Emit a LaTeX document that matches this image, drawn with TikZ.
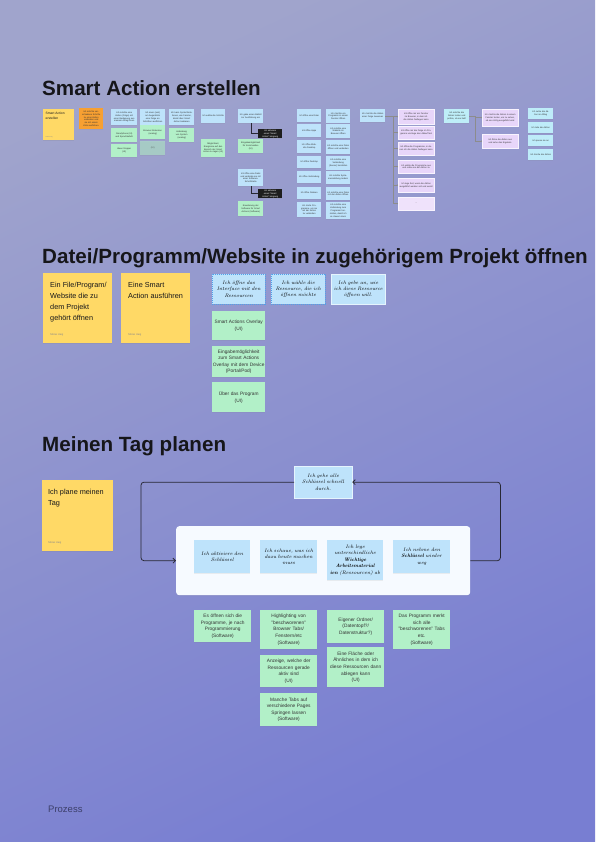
\documentclass[tikz,border=0pt]{standalone}
\usepackage{fontspec}
\setsansfont{Liberation Sans}
\usetikzlibrary{arrows.meta,calc,shadows}

\definecolor{bgtop}{RGB}{160,164,204}
\definecolor{bgbot}{RGB}{120,126,210}
\definecolor{stickyY}{RGB}{255,217,102}
\definecolor{stickyO}{RGB}{247,160,50}
\definecolor{cardB}{RGB}{190,227,251}
\definecolor{cardC}{RGB}{190,238,248}
\definecolor{cardG}{RGB}{178,240,200}
\definecolor{cardP}{RGB}{232,214,250}
\definecolor{cardK}{RGB}{30,30,30}
\definecolor{wrapW}{RGB}{246,250,255}
\definecolor{titleK}{RGB}{22,22,26}
\definecolor{lineK}{RGB}{40,40,52}
\definecolor{dashB}{RGB}{80,160,235}

\tikzset{
  title/.style={anchor=base west, inner sep=0pt, text=titleK, font=\sffamily\bfseries\fontsize{20.6}{24}\selectfont},
  sz/.style 2 args={minimum width=#1pt, minimum height=#2pt},
  sticky/.style={fill=stickyY, anchor=north west, inner sep=0pt,
    drop shadow={shadow xshift=0pt, shadow yshift=-0.8pt, opacity=0.18}},
  stickytext/.style={anchor=north west, inner sep=0pt, align=left, text=titleK,
    font=\sffamily\fontsize{7.3}{10.8}\selectfont},
  author/.style={anchor=south west, inner sep=0pt, text=black!45, font=\sffamily\fontsize{2.6}{3}\selectfont},
  box/.style={anchor=north west, align=center, inner sep=0.5pt, text=black!80,
    font=\sffamily\fontsize{2.2}{2.8}\selectfont,
    drop shadow={shadow xshift=0pt, shadow yshift=-0.5pt, opacity=0.12}},
  card/.style={box, fill=cardB, text width=22pt},
  idea/.style={box, fill=cardG, text width=22pt},
  pcard/.style={box, fill=cardP, draw=white!70!cardP, line width=0.3pt, text width=34pt},
  dark/.style={box, fill=cardK, text=white, text width=22pt},
  note/.style={box, fill=cardG, font=\sffamily\fontsize{4.8}{6.6}\selectfont},
  hand/.style={box, fill=cardB, text=black, font=\rmfamily\itshape\fontsize{5}{6.4}\selectfont},
  link/.style={draw=lineK, line width=0.4pt},
  bus/.style={draw=black!45, line width=0.3pt, -{Circle[length=1.2pt]}},
  flow/.style={draw=lineK, line width=0.75pt, rounded corners=3pt, -{Straight Barb[length=2.5pt,width=5pt]}},
}

\begin{document}
\begin{tikzpicture}[x=1pt, y=-1pt]
  % page background
  \shade[top color=bgtop, bottom color=bgbot, shading angle=25] (0,0) rectangle (595,842);
  \useasboundingbox (0,0) rectangle (595,842);

  % ---------------- Smart Action erstellen ----------------
  \node[title] (t1) at (42,96) {Smart Action erstellen};

  \node[sticky, sz={31}{31}] (sa) at (43,109) {};
  \node[stickytext, font=\sffamily\fontsize{3.3}{4.6}\selectfont] (sat) at ($(sa.north west)+(2.5,3)$) {Smart Action\\erstellen};
  \node[author, font=\sffamily\fontsize{1.4}{2}\selectfont] (saa) at ($(sa.south west)+(2.5,-2)$) {Niklas Haig};
  \node[box, fill=stickyO, sz={24}{21}, text width=21pt] (so) at (79,108) {Ich möchte verschiedene Schritte zu einer Aktion verbinden und sie mit einem Klick ausführen.};

  \node[card, sz={26}{16}] (a1) at (111,109) {Ich möchte eine Aktion (Folge) mit einer Bedienung aus meinem Alltag lösen};
  \node[idea, sz={26}{14}] (a2) at (111,128) {Smartphone (UI)\\und Sprachbefehl};
  \node[idea, sz={26}{13}] (a3) at (111,144) {Ideen Stopper\\(UI)};

  \node[card, sz={25}{16}] (b1) at (140,109) {Ich muss (viel) am Augenblick eine Folge an Schritten ausführen};
  \node[idea, sz={25}{14}] (b2) at (140,125) {Browser Extension\\(analog)};
  \node[idea, sz={25}{14}, fill opacity=0.55, text opacity=0.7] (b3) at (140,141) {(UI)};

  \node[card, sz={25}{16}] (c1) at (169,109) {Ich kann Systemfunktionen, wie Fenster, direkt über Smart Action bedienen};
  \node[idea, sz={25}{14}] (c2) at (169,128) {Anbindung von System\\(analog)};

  \node[card, sz={24}{14}] (d1) at (201,109) {Ich wähle die Schritte};
  \node[idea, sz={24}{18}] (d2) at (201,139) {Möglichkeit, Ereignisse auf den Bereich der Smart Action zu legen (UI)};

  \node[card, sz={25}{14}] (e1) at (238,109) {Ich gebe einen Befehl zur Ausführung ein};
  \node[dark, sz={24}{9}] (k1) at (258,129) {Ich aktiviere einen "Smart Action"-Vorgang};
  \node[idea, sz={25}{14}] (e2) at (238,139) {Eingabemöglichkeit für Kommandos\\(UI)};
  \node[card, sz={25}{17}] (e3) at (238,169) {Ich öffne eine Datei und verbinde sie mit einer Software-Schnittstelle};
  \node[dark, sz={24}{9}] (k2) at (258,189) {Ich aktiviere einen "Smart Action"-Vorgang};
  \node[idea, sz={25}{15}] (e4) at (238,201) {Erweiterung der Software für Smart Actions (Software)};
  \draw[link] (e1.south) |- (k1.west);
  \draw[link] (e3.south) |- (k2.west);

  \foreach \y/\h/\t [count=\i] in {109/13/{Ich öffne eine Datei}, 124/13/{Ich öffne Apps},
      140/13/{Ich öffne Website Desktop}, 156/12/{Ich öffne Desktop}, 171/12/{Ich öffne Verbindung},
      187/12/{Ich öffne Dateien}, 202/15/{Ich starte Programme, um sie mit der Aktion zu verbinden}}
    \node[card, sz={24}{\h}] (f\i) at (297,\y) {\t};

  \foreach \y/\h/\t [count=\i] in {109/14/{Ich möchte ein Programm in einem Fenster öffnen},
      124/14/{Ich möchte eine Website im Browser öffnen}, 140/14/{Ich möchte eine Datei öffnen und verbinden},
      156/14/{Ich möchte eine Verbindung (Server) herstellen}, 171/13/{Ich möchte Systemeinstellung ändern},
      187/13/{Ich möchte eine Datei mit der Aktion öffnen},
      202/17/{Ich möchte eine Verbindung zum Programm herstellen, damit ich es steuern kann}}
    \node[card, sz={24}{\h}] (g\i) at (326,\y) {\t};

  \node[card, sz={25}{13}] (h1) at (360,109) {Ich möchte die Aktion einer Folge zuweisen};
  \foreach \y/\h/\t [count=\i] in {109/15/{Ich öffne mir ein Fenster im Browser, in dem ich die Aktion festlegen kann},
      126/13/{Ich öffne mir die Folge im Programm und lege den Ablauf fest},
      142/13/{Ich öffne die Programme, in denen ich die Aktion festlegen kann},
      160/13/{Ich wähle die Programme aus und ordne sie der Aktion zu},
      178/14/{Ich lege fest, wann die Aktion ausgeführt werden soll und womit},
      197/13/{...}}
    \node[pcard, sz={36}{\h}] (p\i) at (398,\y) {\t};
  \node[pcard, sz={36}{13}, fill=cardP!70!white] (p6) at (398,197) {...};
  \foreach \i in {1,...,6}
    \draw[bus] (h1.east) -- ++(8,0) |- (p\i.west);

  \node[box, fill=cardC, sz={25}{14}, text width=22pt] (h2) at (444,109) {Ich möchte die Aktion testen und prüfen, ob sie läuft};
  \node[pcard, sz={36}{17}] (q1) at (482,109) {Ich möchte die Aktion in einem Fenster testen, um zu sehen, ob sie richtig ausgeführt wird};
  \node[pcard, sz={36}{14}] (q2) at (482,134) {Ich führe die Aktion aus und sehe das Ergebnis};
  \foreach \i in {1,2}
    \draw[bus] (h2.east) -- ++(6,0) |- (q\i.west);

  \foreach \y/\t [count=\i] in {108/{Ich nutze die Aktion im Alltag}, 122/{Ich teile die Aktion},
      135/{Ich passe sie an}, 149/{Ich lösche die Aktion}}
    \node[box, fill=cardC!80!cardB, sz={25}{11}, text width=22pt] (r\i) at (528,\y) {\t};

  % ---------------- Datei/Programm/Website ----------------
  \node[title] (t2) at (42,263) {Datei/Programm/Website in zugehörigem Projekt öffnen};

  \node[sticky, sz={69}{70}] (s1) at (43,273) {};
  \node[stickytext] (s1t) at ($(s1.north west)+(7,9.5)$) {Ein File/Program/\\Website die zu\\dem Projekt\\gehört öffnen};
  \node[author] (s1a) at ($(s1.south west)+(7,-7)$) {Niklas Haig};
  \node[sticky, sz={69}{70}] (s2) at (121,273) {};
  \node[stickytext] (s2t) at ($(s2.north west)+(7,9.5)$) {Eine Smart\\Action ausführen};
  \node[author] (s2a) at ($(s2.south west)+(7,-7)$) {Niklas Haig};

  \node[hand, sz={53}{30}, text width=52pt, draw=dashB, dashed, dash pattern=on 1.2pt off 0.8pt, line width=0.4pt] (o1) at (212,274) {Ich öffne das\\Interface mit den\\Ressourcen};
  \node[hand, sz={54}{30}, text width=53pt, draw=dashB, dashed, dash pattern=on 1.2pt off 0.8pt, line width=0.4pt] (o2) at (271,274) {Ich wähle die\\Ressource, die ich\\öffnen möchte};
  \node[hand, sz={54}{30}, text width=53pt, draw=white!60!cardB, line width=0.4pt] (o3) at (331,274) {Ich gebe an, wie\\ich diese Ressource\\öffnen will.};

  \node[note, sz={53}{29}, text width=52pt] (n1) at (212,311) {Smart Actions Overlay\\(UI)};
  \node[note, sz={53}{31}, text width=52pt] (n2) at (212,346) {Eingabemöglichkeit\\zum Smart Actions\\Overlay mit dem Device\\(Portal/Pod)};
  \node[note, sz={53}{30}, text width=52pt] (n3) at (212,382) {Über das Program\\(UI)};

  % ---------------- Meinen Tag planen ----------------
  \node[title] (t3) at (42,451) {Meinen Tag planen};

  \node[sticky, sz={71}{71}] (s3) at (42,480) {};
  \node[stickytext] (s3t) at ($(s3.north west)+(6,9)$) {Ich plane meinen\\Tag};
  \node[author] (s3a) at ($(s3.south west)+(6,-7)$) {Niklas Haig};

  \node[hand, sz={58}{32}, text width=57pt, draw=white!60!cardB, line width=0.3pt] (durch) at (294,466) {Ich gehe alle\\Schlüssel schnell\\durch.};

  \node[anchor=north west, fill=wrapW, rounded corners=3pt, sz={294}{69},
    drop shadow={shadow xshift=0pt, shadow yshift=-0.8pt, opacity=0.12}] (tag) at (176,526) {};
  \node[hand, sz={56}{33}, text width=55pt] (u1) at (194,540) {Ich aktiviere den\\Schlüssel};
  \node[hand, sz={57}{33}, text width=56pt] (u2) at (260,540) {Ich schaue, was ich\\dazu heute machen\\muss};
  \node[hand, sz={56}{40}, text width=55pt] (u3) at (327,540) {Ich lege\\unterschiedliche\\\textbf{Wichtige}\\\textbf{Arbeitsmaterial}\\\textbf{ien} (Ressourcen) ab};
  \node[hand, sz={57}{33}, text width=56pt] (u4) at (393,540) {Ich nehme den\\\textbf{Schlüssel} wieder\\weg};

  \draw[flow] (durch.west) -| ($(tag.west)+(-35,0)$) -- (tag.west);
  \draw[flow] (tag.east) -- ++(30,0) |- (durch.east);

  \node[note, sz={57}{32}, text width=56pt] (v1) at (194,610) {Es öffnen sich die\\Programme, je nach\\Programmierung\\(Software)};
  \node[note, sz={57}{39}, text width=56pt] (v2) at (260,610) {Highlighting von\\"beschworenen"\\Browser Tabs/\\Fenstern/etc\\(Software)};
  \node[note, sz={57}{32}, text width=56pt] (v3) at (260,655) {Anzeige, welche der\\Ressourcen gerade\\aktiv sind\\(UI)};
  \node[note, sz={57}{33}, text width=56pt] (v4) at (260,693) {Manche Tabs auf\\verschiedene Pages\\Springen lassen\\(Software)};
  \node[note, sz={57}{33}, text width=56pt] (v5) at (327,610) {Eigener Ordner/\\(Datentopf?/\\Datenstruktur?)};
  \node[note, sz={57}{40}, text width=56pt] (v6) at (327,647) {Eine Fläche oder\\Ähnliches in dem ich\\diese Ressourcen dann\\ablegen kann\\(UI)};
  \node[note, sz={57}{39}, text width=56pt] (v7) at (393,610) {Das Programm merkt\\sich alle\\"beschworenen" Tabs\\etc.\\(Software)};

  % page label
  \node[anchor=base west, inner sep=0pt, text=black!50!bgbot, font=\sffamily\fontsize{9.5}{11}\selectfont] (proz) at (48,812) {Prozess};
\end{tikzpicture}
\end{document}
